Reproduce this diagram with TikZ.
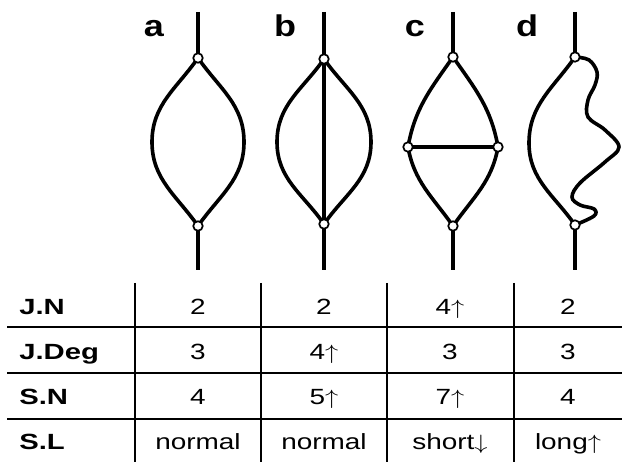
\documentclass[tikz,border=0pt]{standalone}
\usepackage{fontspec}
\setmainfont{Liberation Sans}
\begin{document}
\begin{tikzpicture}[x=1pt,y=1pt,
  edge/.style={line width=3.6pt},
  jn/.style={circle, draw, fill=white, line width=1.7pt, inner sep=0pt, minimum size=9.5pt},
  gridline/.style={line width=1.4pt},
  lbl/.style={font=\bfseries\fontsize{30}{30}\selectfont, xscale=1.2, anchor=base, inner sep=0pt},
  rowlbl/.style={font=\bfseries\fontsize{22}{22}\selectfont, xscale=1.33, anchor=base west, inner sep=0pt},
  val/.style={font=\fontsize{22}{22}\selectfont, xscale=1.27, anchor=base, inner sep=0pt}]
\useasboundingbox (0,0) rectangle (622,462);

% ---------- graph a ----------
\coordinate (aE1) at (198,450);
\coordinate (aT) at (198,404);
\coordinate (aB) at (198,236);
\coordinate (aE2) at (198,192);
\coordinate (aL) at (152,320);
\coordinate (aR) at (244,320);
\draw[edge] (aE1) -- (aT);
\draw[edge] (aB) -- (aE2);
\draw[edge] (aT) to[out=235,in=90] (aL) to[out=-90,in=125] (aB);
\draw[edge] (aT) to[out=-55,in=90] (aR) to[out=-90,in=55] (aB);
\node[jn] (aTn) at (aT) {};
\node[jn] (aBn) at (aB) {};
\node[lbl] (la) at (154,425) {a};

% ---------- graph b ----------
\coordinate (bE1) at (324,450);
\coordinate (bT) at (324,403);
\coordinate (bB) at (324,238);
\coordinate (bE2) at (324,192);
\coordinate (bL) at (277,320);
\coordinate (bR) at (371,320);
\draw[edge] (bE1) -- (bT) -- (bB) -- (bE2);
\draw[edge] (bT) to[out=235,in=90] (bL) to[out=-90,in=125] (bB);
\draw[edge] (bT) to[out=-55,in=90] (bR) to[out=-90,in=55] (bB);
\node[jn] (bTn) at (bT) {};
\node[jn] (bBn) at (bB) {};
\node[lbl] (lb) at (285,425) {b};

% ---------- graph c ----------
\coordinate (cE1) at (453,450);
\coordinate (cT) at (453,405);
\coordinate (cB) at (453,236);
\coordinate (cE2) at (453,192);
\coordinate (cL) at (408,315);
\coordinate (cR) at (498,315);
\draw[edge] (cE1) -- (cT);
\draw[edge] (cB) -- (cE2);
\draw[edge] (cT) to[out=235,in=80] (cL) to[out=-80,in=125] (cB);
\draw[edge] (cT) to[out=-55,in=100] (cR) to[out=-100,in=55] (cB);
\draw[edge] (cL) -- (cR);
\node[jn] (cTn) at (cT) {};
\node[jn] (cBn) at (cB) {};
\node[jn] (cLn) at (cL) {};
\node[jn] (cRn) at (cR) {};
\node[lbl] (lc) at (415,425) {c};

% ---------- graph d ----------
\coordinate (dE1) at (575,450);
\coordinate (dT) at (575,405);
\coordinate (dB) at (575,237);
\coordinate (dE2) at (575,192);
\coordinate (dL) at (529,319);
\draw[edge] (dE1) -- (dT);
\draw[edge] (dB) -- (dE2);
\draw[edge] (dT) to[out=235,in=90] (dL) to[out=-90,in=125] (dB);
\draw[edge] plot[smooth, tension=0.6] coordinates {
  (575,405) (589,402) (597,390) (595,377) (588,362) (588,345) (605,332)
  (619,315) (605,300) (580,279) (572,265) (580,257) (594,253) (594,246) (575,237)};
\node[jn] (dTn) at (dT) {};
\node[jn] (dBn) at (dB) {};
\node[lbl] (ld) at (527,425) {d};

% ---------- table ----------
\coordinate (h1a) at (7,135);  \coordinate (h1b) at (622,135);
\coordinate (h2a) at (7,89);   \coordinate (h2b) at (622,89);
\coordinate (h3a) at (7,43);   \coordinate (h3b) at (622,43);
\draw[gridline] (h1a) -- (h1b);
\draw[gridline] (h2a) -- (h2b);
\draw[gridline] (h3a) -- (h3b);
\coordinate (v1a) at (135,179); \coordinate (v1b) at (135,0);
\coordinate (v2a) at (261,179); \coordinate (v2b) at (261,0);
\coordinate (v3a) at (387,179); \coordinate (v3b) at (387,0);
\coordinate (v4a) at (514,179); \coordinate (v4b) at (514,0);
\draw[gridline] (v1a) -- (v1b);
\draw[gridline] (v2a) -- (v2b);
\draw[gridline] (v3a) -- (v3b);
\draw[gridline] (v4a) -- (v4b);

\node[rowlbl] (r1) at (19,147) {J.N};
\node[rowlbl] (r2) at (19,102) {J.Deg};
\node[rowlbl] (r3) at (19,57) {S.N};
\node[rowlbl] (r4) at (19,12) {S.L};

\node[val] (v11) at (198,147) {2};
\node[val] (v12) at (324,147) {2};
\node[val] (v13) at (450,147) {4$\uparrow$};
\node[val] (v14) at (568,147) {2};

\node[val] (v21) at (198,102) {3};
\node[val] (v22) at (324,102) {4$\uparrow$};
\node[val] (v23) at (450,102) {3};
\node[val] (v24) at (568,102) {3};

\node[val] (v31) at (198,57) {4};
\node[val] (v32) at (324,57) {5$\uparrow$};
\node[val] (v33) at (450,57) {7$\uparrow$};
\node[val] (v34) at (568,57) {4};

\node[val] (v41) at (198,12) {normal};
\node[val] (v42) at (324,12) {normal};
\node[val] (v43) at (450,12) {short$\downarrow$};
\node[val] (v44) at (568,12) {long$\uparrow$};
\end{tikzpicture}
\end{document}
